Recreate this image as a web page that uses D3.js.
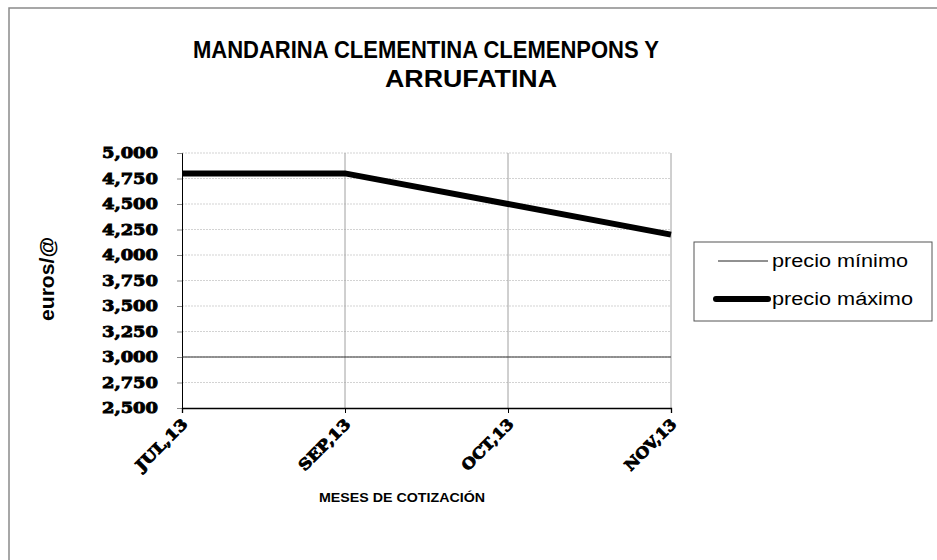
<!DOCTYPE html>
<html>
<head>
<meta charset="utf-8">
<script src="https://cdn.jsdelivr.net/npm/d3@7"></script>
<style>
body { margin: 0; background: #fff; }
</style>
</head>
<body>
<svg id="chart"></svg>
<script>
var meses = ["JUL,13", "SEP,13", "OCT,13", "NOV,13"];
var precioMinimo = [3000, 3000, 3000, 3000];
var precioMaximo = [4800, 4800, 4500, 4200];
var yTicks = [2500, 2750, 3000, 3250, 3500, 3750, 4000, 4250, 4500, 4750, 5000];
var seriesNames = ["precio mínimo", "precio máximo"];

var width = 937,
    height = 560;
var sans = "Arial, 'Liberation Sans', sans-serif";
var serif = "'DejaVu Serif', serif";

var svg = d3.select("#chart").attr("width", width).attr("height", height);

// frame
svg.append("rect").attr("x", 9).attr("y", 8).attr("width", 940).attr("height", 570)
	.attr("fill", "none").attr("stroke", "#8a8a8a").attr("stroke-width", 1.5);

var x = d3.scalePoint().domain(meses).range([182, 671]);
var y = d3.scaleLinear().domain([2500, 5000]).range([408, 153]);

// horizontal grid
svg.append("g").selectAll("line").data(yTicks.slice(1)).enter().append("line")
	.attr("x1", 182).attr("x2", 671)
	.attr("y1", function(d) { return y(d); }).attr("y2", function(d) { return y(d); })
	.attr("stroke", "#c8c8c8").attr("stroke-width", 0.8).attr("stroke-dasharray", "2,1");

// vertical grid
svg.append("g").selectAll("line").data(meses.slice(1)).enter().append("line")
	.attr("x1", function(d) { return x(d); }).attr("x2", function(d) { return x(d); })
	.attr("y1", 153).attr("y2", 408)
	.attr("stroke", "#a0a0a0").attr("stroke-width", 1);

// y axis
var yAxis = svg.append("g").attr("transform", "translate(182,0)")
	.call(d3.axisLeft(y).tickValues(yTicks).tickSize(5).tickPadding(19)
		.tickFormat(function(d) { return d3.format(",")(d); }));
yAxis.select(".domain").attr("stroke", "#000");
yAxis.selectAll(".tick line").attr("stroke", "#888");
yAxis.selectAll("text").attr("fill", "#000").attr("stroke", "#000").attr("stroke-width", 0.9)
	.attr("textLength", 56).attr("lengthAdjust", "spacingAndGlyphs")
	.style("font-family", serif).style("font-weight", "bold").style("font-size", "15px");

// x axis
var xAxis = svg.append("g").attr("transform", "translate(0,408)")
	.call(d3.axisBottom(x).tickSize(5).tickPadding(6));
xAxis.select(".domain").attr("stroke", "#000").attr("stroke-width", 1.3);
xAxis.selectAll(".tick line").attr("stroke", "#000");
xAxis.selectAll("text").attr("fill", "#000").attr("stroke", "#000").attr("stroke-width", 0.9)
	.attr("x", 0).attr("y", 0).attr("dy", 0)
	.attr("textLength", 66).attr("lengthAdjust", "spacingAndGlyphs")
	.style("font-family", serif).style("font-weight", "bold").style("font-size", "15px")
	.attr("text-anchor", "end")
	.attr("transform", "translate(6,17) rotate(-45)");

var line = d3.line()
	.x(function(d, i) { return x(meses[i]); })
	.y(function(d) { return y(d); });

svg.append("path").datum(precioMinimo).attr("d", line)
	.attr("fill", "none").attr("stroke", "#333").attr("stroke-width", 1);
svg.append("path").datum(precioMaximo).attr("d", line)
	.attr("fill", "none").attr("stroke", "#000").attr("stroke-width", 6);

// title
svg.append("text").attr("x", 426).attr("y", 58).attr("text-anchor", "middle")
	.attr("textLength", 466).attr("lengthAdjust", "spacingAndGlyphs")
	.style("font-family", sans).style("font-weight", "bold").style("font-size", "24px")
	.text("MANDARINA CLEMENTINA CLEMENPONS Y");
svg.append("text").attr("x", 471).attr("y", 87).attr("text-anchor", "middle")
	.attr("textLength", 172).attr("lengthAdjust", "spacingAndGlyphs")
	.style("font-family", sans).style("font-weight", "bold").style("font-size", "24px")
	.text("ARRUFATINA");

// axis titles
svg.append("text").attr("transform", "translate(54,279) rotate(-90)").attr("text-anchor", "middle")
	.attr("textLength", 84).attr("lengthAdjust", "spacingAndGlyphs")
	.style("font-family", sans).style("font-weight", "bold").style("font-size", "20px")
	.text("euros/@");
svg.append("text").attr("x", 402).attr("y", 502).attr("text-anchor", "middle")
	.attr("textLength", 166).attr("lengthAdjust", "spacingAndGlyphs")
	.style("font-family", sans).style("font-weight", "bold").style("font-size", "13px")
	.text("MESES DE COTIZACIÓN");

// legend
var legend = svg.append("g");
legend.append("rect").attr("x", 694).attr("y", 242).attr("width", 238).attr("height", 79)
	.attr("fill", "#fff").attr("stroke", "#555").attr("stroke-width", 1);
var legendWidths = [1, 6];
var legendX1 = [718, 716];
var legendLens = [136, 141];
legend.selectAll("line.item").data(seriesNames).enter().append("line")
	.attr("x1", function(d, i) { return legendX1[i]; }).attr("x2", 768)
	.attr("y1", function(d, i) { return 261 + i * 38; }).attr("y2", function(d, i) { return 261 + i * 38; })
	.attr("stroke", function(d, i) { return i == 0 ? "#222" : "#000"; })
	.attr("stroke-width", function(d, i) { return legendWidths[i]; })
	.attr("stroke-linecap", function(d, i) { return i == 0 ? "butt" : "round"; });
legend.selectAll("text.item").data(seriesNames).enter().append("text")
	.attr("x", 772).attr("y", function(d, i) { return 267 + i * 38; })
	.attr("textLength", function(d, i) { return legendLens[i]; }).attr("lengthAdjust", "spacingAndGlyphs")
	.style("font-family", sans).style("font-size", "18px")
	.text(function(d) { return d; });
</script>
</body>
</html>
